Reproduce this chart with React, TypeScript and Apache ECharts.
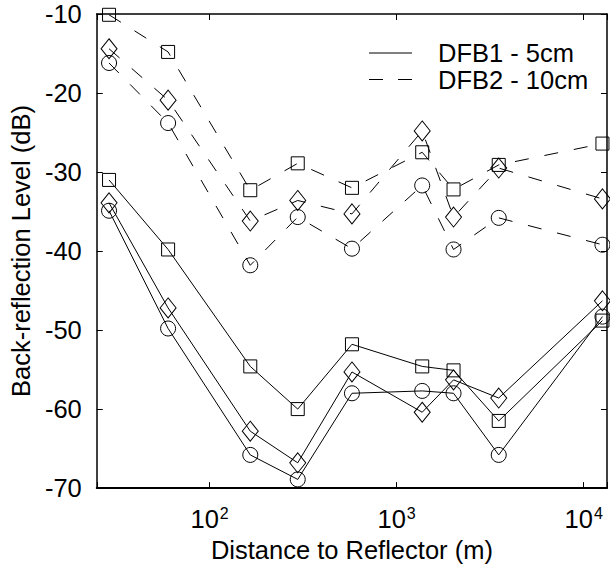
import React, { useEffect, useRef } from "react";
import * as echarts from "echarts";

// Distances to reflector (m)
const distances = [29, 60, 165, 296, 577, 1370, 2015, 3515, 12600];

// DFB1 - 5cm (solid lines)
const dfb1Square = [-31.0, -39.8, -54.6, -60.0, -51.8, -54.6, -55.1, -61.5, -48.8];
const dfb1Diamond = [-33.9, -47.2, -62.8, -66.8, -55.3, -60.4, -56.3, -58.6, -46.3];
const dfb1Circle = [-34.9, -49.8, -65.8, -68.9, -58.0, -57.7, -58.0, -65.8, -48.3];

// DFB2 - 10cm (dashed lines)
const dfb2Square = [-10.1, -14.8, -32.3, -28.9, -32.0, -27.5, -32.2, -29.1, -26.4];
const dfb2Diamond = [-14.4, -20.9, -36.2, -33.6, -35.3, -24.8, -35.7, -29.5, -33.4];
const dfb2Circle = [-16.2, -23.8, -41.8, -35.7, -39.7, -31.7, -39.8, -35.8, -39.2];

const legendLabels = ["DFB1 - 5cm", "DFB2 - 10cm"];
const xTitle = "Distance to Reflector (m)";
const yTitle = "Back-reflection Level (dB)";

const X_MIN = 24.93;
const X_MAX = 13326;
const Y_MIN = -70;
const Y_MAX = -10;
const Y_STEP = 10;

const FONT = '"Liberation Sans", Arial, Helvetica, sans-serif';
const FS = 25.5;
const DASH = [14, 16];

function powLabel(v: number): string {
  const e = Math.round(Math.log10(v));
  if (Math.abs(Math.log10(v) - e) > 1e-6) return "";
  return `{b|10}{s|${e}}`;
}

function makeSeries(name: string, ys: number[], symbol: string, size: any, dashed: boolean) {
  return {
    name,
    type: "line",
    xAxisIndex: 0,
    yAxisIndex: 0,
    data: distances.map((x, i) => [x, ys[i]]),
    symbol,
    symbolSize: size,
    showSymbol: true,
    silent: true,
    clip: false,
    lineStyle: { color: "#000", width: 1, type: dashed ? DASH : "solid" },
    itemStyle: { color: "rgba(0,0,0,0)", borderColor: "#000", borderWidth: 1 },
    emphasis: { disabled: true },
  };
}

export default function App() {
  const ref = useRef<HTMLDivElement>(null);
  useEffect(() => {
    if (!ref.current) return;
    const chart = echarts.init(ref.current, undefined, { renderer: "svg" });
    const axisLine = (w: number) => ({ show: true, lineStyle: { color: "#000", width: w } });
    const tick = { show: true, inside: true, length: 6, lineStyle: { color: "#000", width: 1 } };
    chart.setOption({
      animation: false,
      backgroundColor: "#fff",
      grid: { left: 92.3, top: 14, width: 520.7, height: 477, containLabel: false },
      xAxis: [
        {
          type: "log",
          logBase: 10,
          min: X_MIN,
          max: X_MAX,
          position: "bottom",
          name: xTitle,
          nameLocation: "middle",
          nameGap: 47,
          nameTextStyle: { fontSize: FS, fontFamily: FONT, color: "#000" },
          axisLine: axisLine(2),
          axisTick: tick,
          minorTick: { show: false },
          splitLine: { show: false },
          axisLabel: {
            margin: 17,
            formatter: powLabel,
            rich: {
              b: { fontSize: FS, fontFamily: FONT, color: "#000", lineHeight: 28 },
              s: { fontSize: 16, fontFamily: FONT, color: "#000", verticalAlign: "top", lineHeight: 16, padding: [0, 0, 0, 1] },
            },
          },
        },
        {
          type: "log",
          logBase: 10,
          min: X_MIN,
          max: X_MAX,
          position: "top",
          axisLine: axisLine(1.5),
          axisTick: tick,
          axisLabel: { show: false },
          splitLine: { show: false },
          minorTick: { show: false },
        },
      ],
      yAxis: [
        {
          type: "value",
          min: Y_MIN,
          max: Y_MAX,
          interval: Y_STEP,
          position: "left",
          name: yTitle,
          nameLocation: "middle",
          nameRotate: 90,
          nameGap: 60,
          nameTextStyle: { fontSize: FS, fontFamily: FONT, color: "#000" },
          axisLine: axisLine(1.5),
          axisTick: tick,
          splitLine: { show: false },
          axisLabel: { margin: 15, fontSize: FS, fontFamily: FONT, color: "#000" },
        },
        {
          type: "value",
          min: Y_MIN,
          max: Y_MAX,
          interval: Y_STEP,
          position: "right",
          axisLine: axisLine(1.5),
          axisTick: tick,
          splitLine: { show: false },
          axisLabel: { show: false },
        },
      ],
      graphic: [
        { type: "line", shape: { x1: 369, y1: 53, x2: 412, y2: 53 }, style: { stroke: "#000", lineWidth: 1 } },
        { type: "line", shape: { x1: 369, y1: 79.5, x2: 412, y2: 79.5 }, style: { stroke: "#000", lineWidth: 1, lineDash: [14, 15] } },
        {
          type: "text",
          x: 438,
          y: 53,
          style: { text: legendLabels[0], fontSize: FS, fontFamily: FONT, fill: "#000", verticalAlign: "middle" },
        },
        {
          type: "text",
          x: 438,
          y: 79.5,
          style: { text: legendLabels[1], fontSize: FS, fontFamily: FONT, fill: "#000", verticalAlign: "middle" },
        },
      ],
      series: [
        makeSeries("DFB1 square", dfb1Square, "rect", 13, false),
        makeSeries("DFB1 diamond", dfb1Diamond, "diamond", [16, 20], false),
        makeSeries("DFB1 circle", dfb1Circle, "circle", 15, false),
        makeSeries("DFB2 square", dfb2Square, "rect", 13, true),
        makeSeries("DFB2 diamond", dfb2Diamond, "diamond", [16, 20], true),
        makeSeries("DFB2 circle", dfb2Circle, "circle", 15, true),
      ],
    });
    return () => chart.dispose();
  }, []);
  return (
    <div
      ref={ref}
      style={{ position: "absolute", left: 0, top: 0, width: 610, height: 568, overflow: "hidden" }}
    />
  );
}
